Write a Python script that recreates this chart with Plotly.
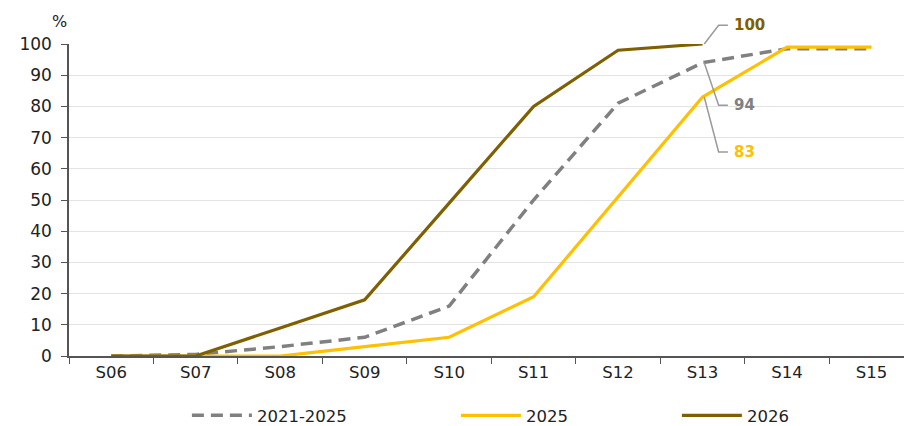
import plotly.graph_objects as go

categories = ["S06", "S07", "S08", "S09", "S10", "S11", "S12", "S13", "S14", "S15"]
avg_2021_2025 = [0, 0.5, 3, 6, 16, 50, 81, 94, 98.5, 98.5]
s2025 = [0, 0, 0, 3, 6, 19, 51, 83, 99, 99]
s2026 = [0, 0, 9, 18, 49, 80, 98, 100, None, None]

GRAY = "#808080"
GOLD = "#FFC000"
OLIVE = "#7F6000"
FONT = "DejaVu Sans"
TXT = "#222222"

fig = go.Figure()
fig.add_trace(go.Scatter(x=categories, y=avg_2021_2025, name="2021-2025", mode="lines", legend="legend",
                         line=dict(color=GRAY, width=3.5, dash="12px,7px")))
fig.add_trace(go.Scatter(x=categories, y=s2025, name="2025", mode="lines", legend="legend2",
                         line=dict(color=GOLD, width=3.2)))
fig.add_trace(go.Scatter(x=categories, y=s2026, name="2026", mode="lines", legend="legend3",
                         line=dict(color=OLIVE, width=3.2)))

YMAX = 100.0
def py(v):
    return v / YMAX

# leader lines (x in category index units, y in paper units)
leaders = [
    (7, 100, 106, "100", OLIVE),
    (7, 94, 80.4, "94", GRAY),
    (7, 83, 65.4, "83", GOLD),
]
for xi, y0, y1, txt, col in leaders:
    fig.add_shape(type="path", xref="x", yref="paper",
                  path=f"M {xi+0.02},{py(y0)} L {xi+0.19},{py(y1)} L {xi+0.3},{py(y1)}",
                  line=dict(color="#9a9a9a", width=1.5))
    fig.add_annotation(x=xi + 0.35, y=py(y1), xref="x", yref="paper", text=f"<b>{txt}</b>",
                       showarrow=False, xanchor="left", yanchor="middle",
                       font=dict(family=FONT, size=15, color=col))

fig.add_annotation(x=-0.011, y=1.072, xref="paper", yref="paper", text="%", showarrow=False,
                   xanchor="center", yanchor="middle", font=dict(family=FONT, size=16, color=TXT))

leg_common = dict(orientation="h", y=-0.135, yanchor="top", xanchor="left", itemwidth=60,
                  bgcolor="rgba(0,0,0,0)", font=dict(family=FONT, size=16.5, color=TXT))

# page body has an 8px margin, so the figure is sized/offset to fill the 912x426 window
fig.update_layout(
    width=904, height=418,
    margin=dict(l=61, r=5, t=36, b=70, autoexpand=False),
    plot_bgcolor="white", paper_bgcolor="white",
    font=dict(family=FONT, size=16, color=TXT),
    showlegend=True,
    legend=dict(x=0.1407, **leg_common),
    legend2=dict(x=0.4617, **leg_common),
    legend3=dict(x=0.7254, **leg_common),
    xaxis=dict(type="category", range=[-0.5, 9.42], showgrid=False,
               showline=True, linecolor="#555", linewidth=1.5,
               ticks="outside", tickson="boundaries", ticklen=6, tickcolor="#555",
               tickfont=dict(family=FONT, size=16.5, color=TXT)),
    yaxis=dict(range=[0, 100], tickvals=list(range(0, 101, 10)), showgrid=True,
               gridcolor="#e3e3e3", gridwidth=1, zeroline=False,
               showline=True, linecolor="#555", linewidth=1.5,
               ticks="outside", ticklen=6, tickcolor="#555", ticklabelstandoff=6,
               tickfont=dict(family=FONT, size=17, color=TXT)),
)

fig.write_html("out.html")
